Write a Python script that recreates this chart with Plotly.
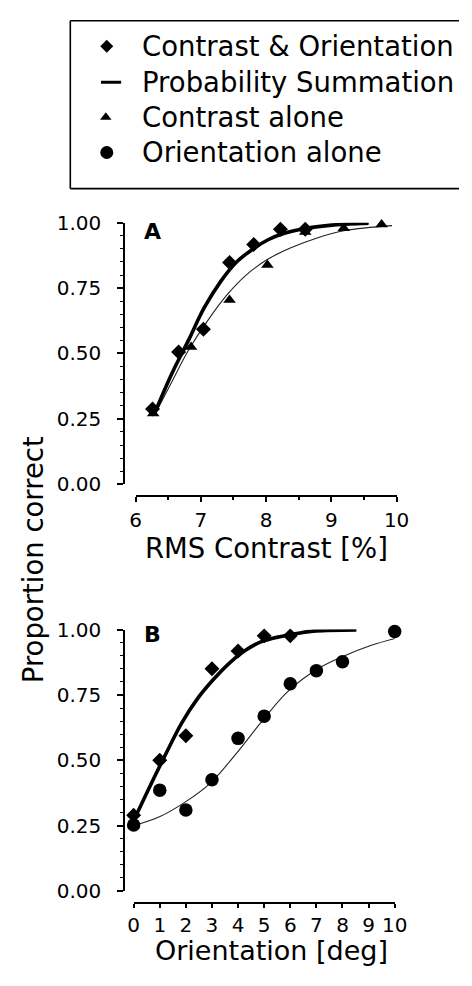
import plotly.graph_objects as go

# ---------------- data ----------------
# Panel A: RMS contrast [%]
a_combo_x = [6.26, 6.66, 7.04, 7.44, 7.81, 8.22, 8.60]
a_combo_y = [0.288, 0.506, 0.593, 0.848, 0.917, 0.975, 0.975]
a_contrast_x = [6.27, 6.85, 7.44, 8.02, 8.60, 9.19, 9.77]
a_contrast_y = [0.270, 0.525, 0.705, 0.838, 0.965, 0.979, 0.993]

a_ps_curve_x = [6.29, 6.56, 6.81, 7.05, 7.30, 7.54, 7.79, 8.03, 8.28, 8.62, 9.01, 9.46, 9.57]
a_ps_curve_y = [0.270, 0.425, 0.550, 0.674, 0.774, 0.848, 0.898, 0.935, 0.960, 0.979, 0.991, 0.997, 0.998]
a_combo_curve_x = [6.29, 6.56, 6.81, 7.05, 7.30, 7.54, 7.79, 8.03, 8.28, 8.62, 9.01, 9.46, 9.57]
a_combo_curve_y = [0.268, 0.420, 0.546, 0.668, 0.770, 0.845, 0.896, 0.933, 0.959, 0.978, 0.990, 0.996, 0.998]
a_contrast_curve_x = [6.29, 6.56, 6.81, 7.10, 7.40, 7.69, 8.03, 8.38, 8.77, 9.21, 9.93]
a_contrast_curve_y = [0.264, 0.394, 0.512, 0.624, 0.724, 0.799, 0.861, 0.904, 0.941, 0.970, 0.989]

# Panel B: orientation [deg]
b_combo_x = [0, 1, 2, 3, 4, 5, 6]
b_combo_y = [0.290, 0.500, 0.594, 0.850, 0.918, 0.976, 0.976]
b_orient_x = [0, 1, 2, 3, 4, 5, 6, 7, 8, 10]
b_orient_y = [0.253, 0.386, 0.310, 0.426, 0.584, 0.669, 0.793, 0.843, 0.877, 0.993]

b_ps_curve_x = [0.07, 0.63, 1.24, 1.85, 2.46, 3.08, 3.69, 4.30, 4.92, 5.65, 6.30, 7.00, 8.53]
b_ps_curve_y = [0.284, 0.402, 0.526, 0.644, 0.738, 0.812, 0.874, 0.922, 0.955, 0.974, 0.986, 0.995, 0.999]
b_combo_curve_x = [0.07, 0.63, 1.24, 1.85, 2.46, 3.08, 3.69, 4.30, 4.92, 5.65, 6.30, 7.00, 8.53]
b_combo_curve_y = [0.282, 0.398, 0.522, 0.640, 0.735, 0.810, 0.872, 0.921, 0.954, 0.973, 0.985, 0.995, 0.999]
b_orient_curve_x = [0.0, 0.99, 1.97, 2.95, 3.93, 4.92, 5.89, 7.06, 8.06, 9.08, 10.06]
b_orient_curve_y = [0.250, 0.284, 0.340, 0.414, 0.526, 0.650, 0.762, 0.850, 0.899, 0.939, 0.967]

legend_labels = ["Contrast & Orientation", "Probability Summation",
                 "Contrast alone", "Orientation alone"]
y_title = "Proportion correct"
xa_title = "RMS Contrast [%]"
xb_title = "Orientation [deg]"

# ---------------- layout helpers ----------------
W, H = 472, 986
FONT = "DejaVu Sans"


def px(x):
    return x / W


def py(y):
    return 1 - y / H


fig = go.Figure()

thick = dict(color="black", width=3.6)
thin = dict(color="#222222", width=1.1)
diamond = dict(symbol="diamond", size=11.5, color="black", line=dict(width=0))
triangle = dict(symbol="triangle-up", size=11, color="black", line=dict(width=0))
circle = dict(symbol="circle", size=13.5, color="black", line=dict(width=0))

# Panel A
fig.add_trace(go.Scatter(x=a_contrast_curve_x, y=a_contrast_curve_y, mode="lines",
                         line=dict(shape="spline", **thin), xaxis="x", yaxis="y"))
fig.add_trace(go.Scatter(x=a_ps_curve_x, y=a_ps_curve_y, mode="lines",
                         line=dict(shape="spline", **thick), xaxis="x", yaxis="y"))
fig.add_trace(go.Scatter(x=a_combo_curve_x, y=a_combo_curve_y, mode="lines",
                         line=dict(shape="spline", color="black", width=1), xaxis="x", yaxis="y"))
fig.add_trace(go.Scatter(x=a_contrast_x, y=a_contrast_y, mode="markers", marker=triangle,
                         cliponaxis=False, xaxis="x", yaxis="y"))
fig.add_trace(go.Scatter(x=a_combo_x, y=a_combo_y, mode="markers", marker=diamond,
                         cliponaxis=False, xaxis="x", yaxis="y"))

# Panel B
fig.add_trace(go.Scatter(x=b_orient_curve_x, y=b_orient_curve_y, mode="lines",
                         line=dict(shape="spline", **thin), xaxis="x2", yaxis="y2"))
fig.add_trace(go.Scatter(x=b_ps_curve_x, y=b_ps_curve_y, mode="lines",
                         line=dict(shape="spline", **thick), xaxis="x2", yaxis="y2"))
fig.add_trace(go.Scatter(x=b_combo_curve_x, y=b_combo_curve_y, mode="lines",
                         line=dict(shape="spline", color="black", width=1), xaxis="x2", yaxis="y2"))
fig.add_trace(go.Scatter(x=b_orient_x, y=b_orient_y, mode="markers", marker=circle,
                         cliponaxis=False, xaxis="x2", yaxis="y2"))
fig.add_trace(go.Scatter(x=b_combo_x, y=b_combo_y, mode="markers", marker=diamond,
                         cliponaxis=False, xaxis="x2", yaxis="y2"))

# Legend keys (drawn on a pixel overlay axis)
leg_rows = [35, 72, 108, 144]
leg_key_x = 105
fig.add_trace(go.Scatter(x=[leg_key_x], y=[leg_rows[0]], mode="markers",
                         marker=dict(symbol="diamond", size=10, color="black"),
                         cliponaxis=False, xaxis="x3", yaxis="y3"))
fig.add_trace(go.Scatter(x=[leg_key_x - 6, leg_key_x + 15], y=[leg_rows[1], leg_rows[1]], mode="lines",
                         line=dict(color="black", width=3), xaxis="x3", yaxis="y3"))
fig.add_trace(go.Scatter(x=[leg_key_x - 1], y=[leg_rows[2]], mode="markers",
                         marker=dict(symbol="triangle-up", size=10, color="black"),
                         cliponaxis=False, xaxis="x3", yaxis="y3"))
fig.add_trace(go.Scatter(x=[leg_key_x], y=[leg_rows[3]], mode="markers",
                         marker=dict(symbol="circle", size=13, color="black"),
                         cliponaxis=False, xaxis="x3", yaxis="y3"))

tickfont = dict(family=FONT, size=20, color="black")
common = dict(showline=True, linecolor="black", linewidth=1.5, ticks="outside",
              tickcolor="black", tickwidth=1.5, showgrid=False, zeroline=False,
              tickfont=tickfont, fixedrange=True)
yminor = dict(dtick=0.05, ticklen=3, ticks="outside", tickcolor="black", tickwidth=1, showgrid=False)

fig.update_layout(
    width=W, height=H, margin=dict(l=0, r=0, t=0, b=0),
    paper_bgcolor="white", plot_bgcolor="rgba(0,0,0,0)", showlegend=False,
    font=dict(family=FONT, color="black"),
    xaxis=dict(domain=[px(135), px(407)], range=[6, 10], anchor="free", position=py(496),
               tick0=6, dtick=1, ticklen=5, ticklabelstandoff=1,
               minor=dict(dtick=0.5, ticklen=3, ticks="outside", tickcolor="black", showgrid=False),
               **common),
    yaxis=dict(domain=[py(484), py(216)], range=[0, 1], anchor="free", position=px(123),
               dtick=0.25, tickformat=".2f", ticklen=6, ticklabelstandoff=12, minor=yminor, **common),
    xaxis2=dict(domain=[px(133), px(405)], range=[0, 10], anchor="free", position=py(913),
                tick0=0, dtick=1, ticklen=4, ticklabelstandoff=0, **common),
    yaxis2=dict(domain=[py(901), py(633)], range=[0, 1], anchor="free", position=px(123),
                dtick=0.25, tickformat=".2f", ticklen=6, ticklabelstandoff=12, minor=yminor, **common),
    xaxis3=dict(domain=[0, 1], range=[0, W], visible=False, anchor="y3", fixedrange=True),
    yaxis3=dict(domain=[0, 1], range=[H, 0], visible=False, anchor="x3", fixedrange=True),
)

# Legend box: top, left and bottom edges only (it runs off the right edge)
box_line = dict(color="black", width=1.6)
for (x0, y0, x1, y1) in [(67, 9, W, 9), (67, 181, W, 181), (67, 9, 67, 181)]:
    fig.add_shape(type="line", xref="paper", yref="paper", x0=px(x0), x1=px(x1),
                  y0=py(y0), y1=py(y1), line=box_line)

ann = []
for lab, r in zip(legend_labels, leg_rows):
    ann.append(dict(text=lab, x=px(140), y=py(r), xanchor="left", yanchor="middle",
                    font=dict(family=FONT, size=27.5, color="black")))
ann.append(dict(text="<b>A</b>", x=px(153), y=py(225), xanchor="center", yanchor="middle",
                font=dict(family=FONT, size=22, color="black")))
ann.append(dict(text="<b>B</b>", x=px(153), y=py(638), xanchor="center", yanchor="middle",
                font=dict(family=FONT, size=22, color="black")))
ann.append(dict(text=xa_title, x=px(271), y=py(549), xanchor="center", yanchor="middle",
                font=dict(family=FONT, size=27.5, color="black")))
ann.append(dict(text=xb_title, x=px(277), y=py(962), xanchor="center", yanchor="middle",
                font=dict(family=FONT, size=27, color="black")))
ann.append(dict(text=y_title, x=px(28), y=py(561), xanchor="center", yanchor="middle",
                textangle=-90, font=dict(family=FONT, size=27.5, color="black")))
for a in ann:
    a.update(xref="paper", yref="paper", showarrow=False)
fig.update_layout(annotations=ann)

fig.write_html("out.html")
